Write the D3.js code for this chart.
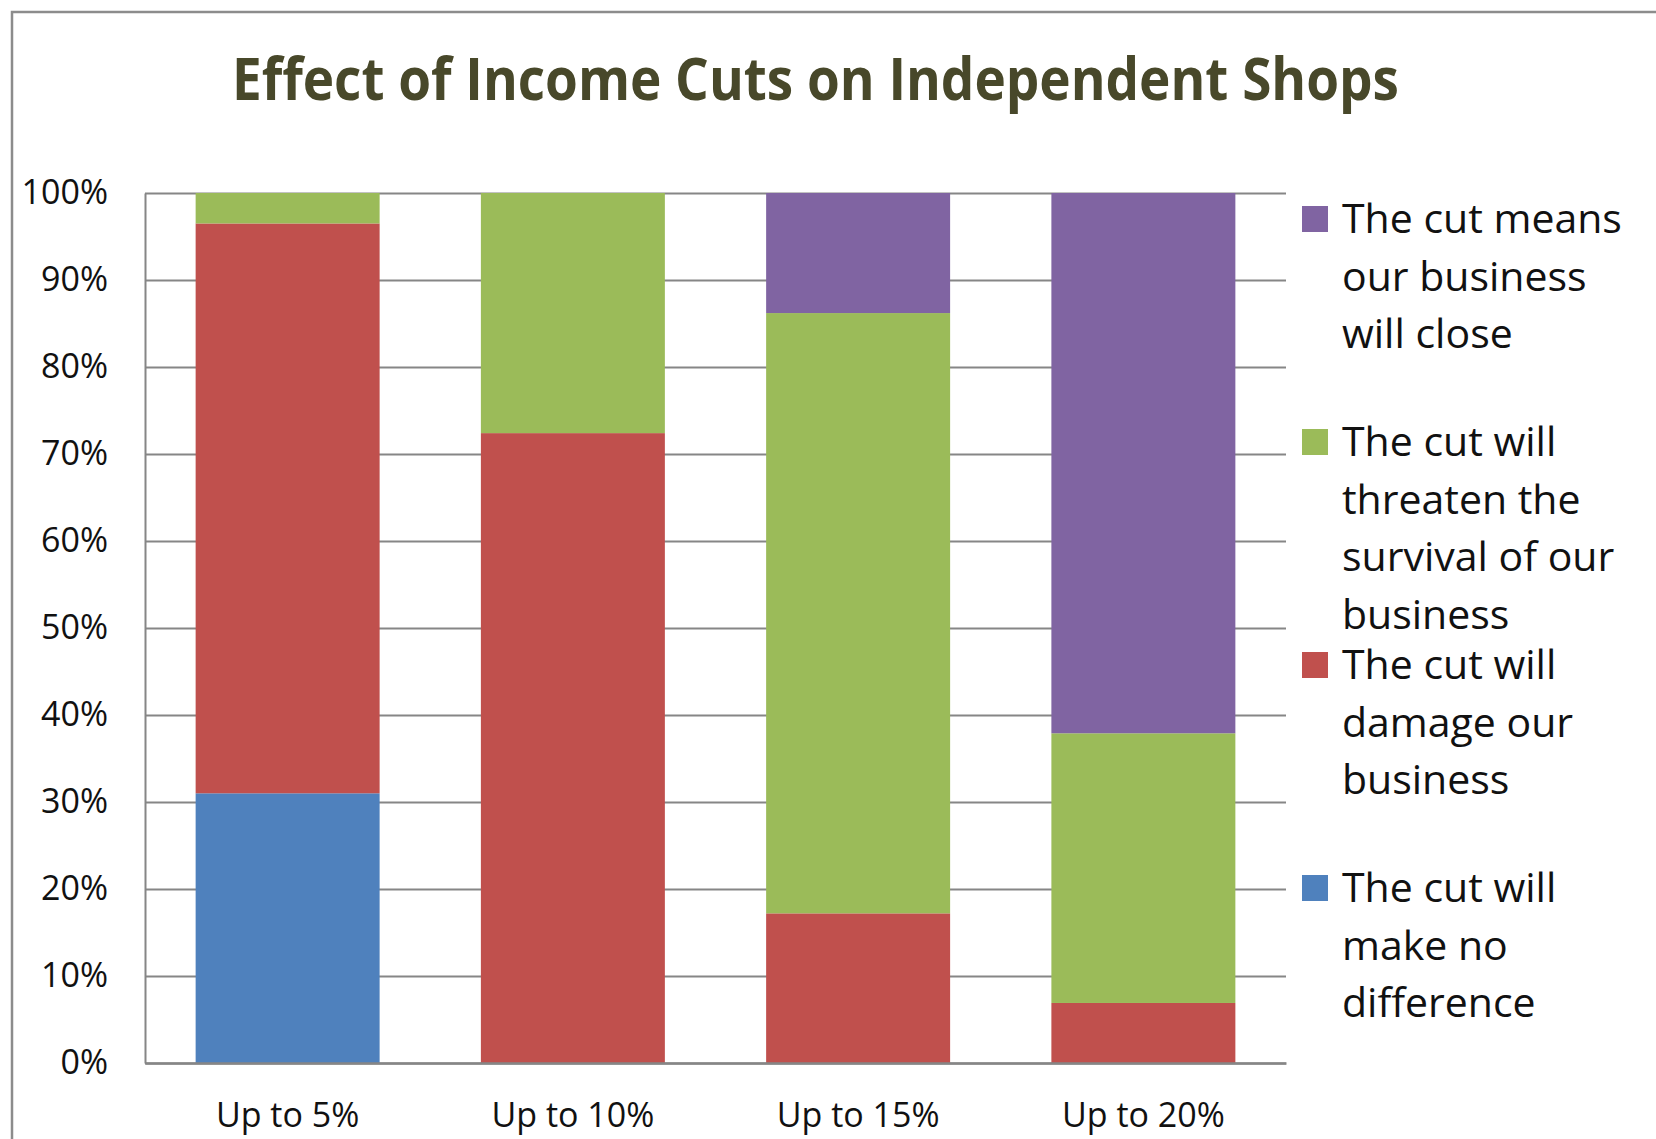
<!DOCTYPE html>
<html>
<head>
<meta charset="utf-8">
<script src="https://cdn.jsdelivr.net/npm/d3@7"></script>
<style>
  body { margin: 0; background: #ffffff; }
  svg { display: block; font-family: "Open Sans", "Noto Sans", sans-serif; }
</style>
</head>
<body>
<svg id="chart"></svg>
<script>
// Effect of Income Cuts on Independent Shops (share of respondents, %)
const categories = ["Up to 5%", "Up to 10%", "Up to 15%", "Up to 20%"];
const seriesNames = [
  "The cut will make no difference",
  "The cut will damage our business",
  "The cut will threaten the survival of our business",
  "The cut means our business will close"
];
const noDifference = [31.0, 0, 0, 0];
const damage = [65.5, 72.4, 17.2, 6.9];
const threaten = [3.5, 27.6, 69.0, 31.0];
const willClose = [0, 0, 13.8, 62.1];
const yTicks = [0, 10, 20, 30, 40, 50, 60, 70, 80, 90, 100];

// legend text, top entry first, wrapped like the original
const legendLines = [
  ["The cut means", "our business", "will close"],
  ["The cut will", "threaten the", "survival of our", "business"],
  ["The cut will", "damage our", "business"],
  ["The cut will", "make no", "difference"]
];

const colors = ["#4f81bd", "#c0504d", "#9bbb59", "#8064a2"];

const width = 1656;
const height = 1139;
const margin = { top: 193, right: 370, bottom: 76, left: 145 };
const plotWidth = width - margin.left - margin.right;
const plotHeight = height - margin.top - margin.bottom;

const svg = d3.select("#chart").attr("width", width).attr("height", height);

// outer chart-area frame (right and bottom edges are cropped off)
svg.append("rect")
  .attr("x", 12)
  .attr("y", 12)
  .attr("width", width + 20)
  .attr("height", height + 20)
  .attr("fill", "#ffffff")
  .attr("stroke", "#8c8c8c")
  .attr("stroke-width", 2.5);

svg.append("text")
  .attr("x", 232)
  .attr("y", 100)
  .attr("textLength", 1167)
  .attr("lengthAdjust", "spacingAndGlyphs")
  .style("font-size", "59px")
  .style("font-weight", "700")
  .style("fill", "#48482a")
  .text("Effect of Income Cuts on Independent Shops");

const chart = svg.append("g")
  .attr("transform", "translate(" + margin.left + "," + margin.top + ")");

const rows = categories.map(function (c, i) {
  return { name: c, s0: noDifference[i], s1: damage[i], s2: threaten[i], s3: willClose[i] };
});
const keys = ["s0", "s1", "s2", "s3"];
const stacked = d3.stack().keys(keys)(rows);

const xScale = d3.scaleBand()
  .domain(categories)
  .range([0, plotWidth])
  .paddingInner(0.355)
  .paddingOuter(0.1775);

const yScale = d3.scaleLinear()
  .domain([0, 100])
  .range([plotHeight, 0]);

// gridlines
const grid = chart.append("g")
  .call(d3.axisLeft(yScale).tickValues(yTicks).tickSize(-plotWidth).tickFormat(""));
grid.select(".domain").remove();
grid.selectAll(".tick line").attr("stroke", "#868686").attr("stroke-width", 2);

// bars
chart.selectAll(".series")
  .data(stacked)
  .enter()
  .append("g")
  .attr("class", "series")
  .attr("fill", function (d, i) {
    return colors[i];
  })
  .selectAll("rect")
  .data(function (d) {
    return d.filter(function (p) {
      return p[1] - p[0] > 0;
    });
  })
  .enter()
  .append("rect")
  .attr("x", function (d) {
    return xScale(d.data.name);
  })
  .attr("y", function (d) {
    return yScale(d[1]);
  })
  .attr("width", xScale.bandwidth())
  .attr("height", function (d) {
    return yScale(d[0]) - yScale(d[1]);
  });

// y axis labels
const yAxis = chart.append("g")
  .call(d3.axisLeft(yScale).tickValues(yTicks).tickSize(0).tickPadding(37).tickFormat(function (d) {
    return d + "%";
  }));
yAxis.select(".domain").attr("stroke", "#868686").attr("stroke-width", 2);
yAxis.selectAll("text")
  .style("font-family", "'Open Sans', sans-serif")
  .style("font-size", "34px")
  .style("fill", "#111111");

// x axis
const xAxis = chart.append("g")
  .attr("transform", "translate(0," + plotHeight + ")")
  .call(d3.axisBottom(xScale).tickSize(0).tickPadding(40));
xAxis.select(".domain").attr("stroke", "#868686").attr("stroke-width", 2.5);
xAxis.selectAll("text")
  .style("font-family", "'Open Sans', sans-serif")
  .style("font-size", "34px")
  .style("fill", "#111111");

// legend (top entry = last series)
const legend = svg.append("g").attr("transform", "translate(1302,233)");
const legendOrder = [3, 2, 1, 0];
const entrySpacing = 223;
const lineHeight = 57.5;

legendOrder.forEach(function (s, i) {
  const item = legend.append("g").attr("transform", "translate(0," + i * entrySpacing + ")");
  item.append("rect")
    .attr("x", 0)
    .attr("y", -27)
    .attr("width", 26)
    .attr("height", 26)
    .attr("fill", colors[s]);
  item.append("text")
    .attr("x", 40)
    .attr("y", 0)
    .style("font-size", "41px")
    .style("fill", "#111111")
    .selectAll("tspan")
    .data(legendLines[i])
    .enter()
    .append("tspan")
    .attr("x", 40)
    .attr("dy", function (d, j) {
      return j === 0 ? 0 : lineHeight;
    })
    .text(function (d) {
      return d;
    });
});
</script>
</body>
</html>
